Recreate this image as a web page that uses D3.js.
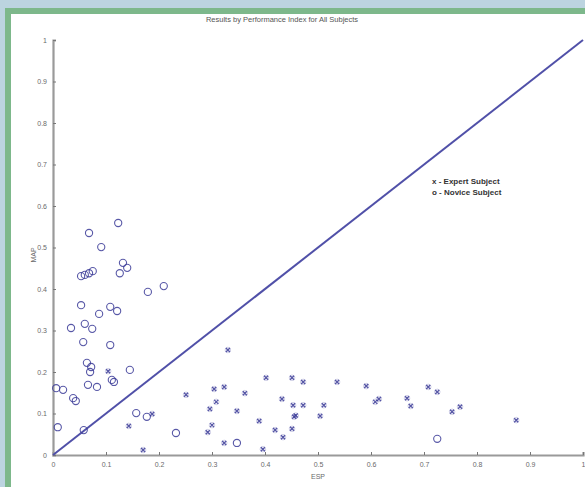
<!DOCTYPE html>
<html><head><meta charset="utf-8">
<script src="https://cdn.jsdelivr.net/npm/d3@7"></script>
<style>body{margin:0;padding:0;background:#bcd4e0;}svg{display:block;}</style>
</head><body>
<svg id="chart" width="585" height="487"></svg>
<script>
// Expert subjects (x markers): [ESP, MAP]
const expertESP = [0.104,0.143,0.170,0.187,0.330,0.251,0.304,0.323,0.308,0.296,0.362,0.402,0.347,0.432,0.389,0.300,0.292,0.323,0.419,0.434,0.396,0.451,0.472,0.453,0.472,0.455,0.458,0.451,0.536,0.511,0.504,0.591,0.608,0.615,0.668,0.675,0.708,0.725,0.753,0.768,0.874];
const expertMAP = [0.202,0.070,0.012,0.099,0.253,0.145,0.159,0.164,0.128,0.111,0.149,0.186,0.106,0.135,0.082,0.072,0.055,0.029,0.060,0.043,0.014,0.186,0.176,0.120,0.120,0.092,0.095,0.063,0.176,0.120,0.094,0.166,0.128,0.135,0.137,0.118,0.164,0.152,0.104,0.116,0.084];
// Novice subjects (o markers)
const noviceESP = [0.123,0.068,0.091,0.132,0.140,0.126,0.075,0.068,0.060,0.053,0.179,0.209,0.053,0.108,0.121,0.087,0.034,0.060,0.074,0.057,0.108,0.064,0.072,0.070,0.145,0.066,0.083,0.006,0.019,0.038,0.043,0.111,0.115,0.157,0.177,0.009,0.058,0.232,0.347,0.725];
const noviceMAP = [0.559,0.535,0.501,0.463,0.451,0.438,0.443,0.438,0.434,0.431,0.393,0.407,0.361,0.357,0.347,0.340,0.306,0.316,0.304,0.272,0.265,0.222,0.212,0.200,0.205,0.169,0.164,0.161,0.157,0.137,0.130,0.181,0.176,0.101,0.092,0.067,0.060,0.053,0.029,0.039];
const xTicks = [0,0.1,0.2,0.3,0.4,0.5,0.6,0.7,0.8,0.9,1];
const yTicks = [0,0.1,0.2,0.3,0.4,0.5,0.6,0.7,0.8,0.9,1];
const tickLabels = ["0","0.1","0.2","0.3","0.4","0.5","0.6","0.7","0.8","0.9","1"];
const titleText = "Results by Performance Index for All Subjects";
const xLabel = "ESP", yLabel = "MAP";
const legendItems = ["x - Expert Subject","o - Novice Subject"];

const svg = d3.select("#chart");
// frame
svg.append("rect").attr("x",0).attr("y",0).attr("width",585).attr("height",487).attr("fill","#bcd4e0");
svg.append("rect").attr("x",5).attr("y",8).attr("width",580).attr("height",479).attr("fill","#7db88b");
svg.append("rect").attr("x",11).attr("y",14).attr("width",574).attr("height",473).attr("fill","#ffffff");

const x = d3.scaleLinear().domain([0,1]).range([53,583]);
const y = d3.scaleLinear().domain([0,1]).range([455,40]);
const axisColor = "#9a9a9a", textColor = "#6a6a6a", markColor = "#3b3b98";

// axes
const xAxis = d3.axisBottom(x).tickValues(xTicks).tickFormat((d,i)=>tickLabels[i]).tickSize(-3).tickPadding(7);
const yAxis = d3.axisLeft(y).tickValues(yTicks).tickFormat((d,i)=>tickLabels[i]).tickSize(-3).tickPadding(6);
const gx = svg.append("g").attr("transform","translate(0,455)").call(xAxis);
const gy = svg.append("g").attr("transform","translate(53,0)").call(yAxis);
[gx,gy].forEach(g=>{
  g.select(".domain").attr("stroke",axisColor).attr("stroke-width",2.2);
  g.selectAll(".tick line").attr("stroke","#777").attr("stroke-width",1);
  g.selectAll(".tick text").attr("fill",textColor).style("font-family","Liberation Sans, Arial, sans-serif").style("font-size","7px");
});

// title and labels
svg.append("text").attr("x",282).attr("y",22).attr("text-anchor","middle")
  .style("font-family","Liberation Sans, Arial, sans-serif").style("font-size","7.5px").attr("fill","#555").text(titleText);
svg.append("text").attr("x",318).attr("y",479).attr("text-anchor","middle")
  .style("font-family","Liberation Sans, Arial, sans-serif").style("font-size","7px").attr("fill",textColor).text(xLabel);
svg.append("text").attr("transform","translate(36,255) rotate(-90)").attr("text-anchor","middle")
  .style("font-family","Liberation Sans, Arial, sans-serif").style("font-size","7px").attr("fill",textColor).text(yLabel);

// diagonal
svg.append("line").attr("x1",x(0)).attr("y1",y(0)).attr("x2",x(1)).attr("y2",y(1))
  .attr("stroke","#5050a8").attr("stroke-width",2);

// novice circles
svg.append("g").selectAll("circle").data(noviceESP.map((v,i)=>[v,noviceMAP[i]])).join("circle")
  .attr("cx",d=>x(d[0])).attr("cy",d=>y(d[1])).attr("r",3.6)
  .attr("fill","none").attr("stroke",markColor).attr("stroke-width",1.1).attr("opacity",0.85);

// expert x markers
const eg = svg.append("g");
expertESP.forEach((v,i)=>{
  const cx = x(v), cy = y(expertMAP[i]), s = 2;
  eg.append("path").attr("d",`M${cx-s},${cy-s}L${cx+s},${cy+s}M${cx-s},${cy+s}L${cx+s},${cy-s}`)
    .attr("stroke",markColor).attr("stroke-width",1.4).attr("opacity",0.85);
  eg.append("circle").attr("cx",cx).attr("cy",cy).attr("r",2.8).attr("fill","none").attr("stroke",markColor).attr("stroke-width",0.6).attr("opacity",0.4);
});

// legend
legendItems.forEach((t,i)=>{
  svg.append("text").attr("x",432).attr("y",184+i*11)
    .style("font-family","Liberation Sans, Arial, sans-serif").style("font-size","8px").style("font-weight","bold")
    .attr("fill","#333").text(t);
});
</script>
</body></html>
